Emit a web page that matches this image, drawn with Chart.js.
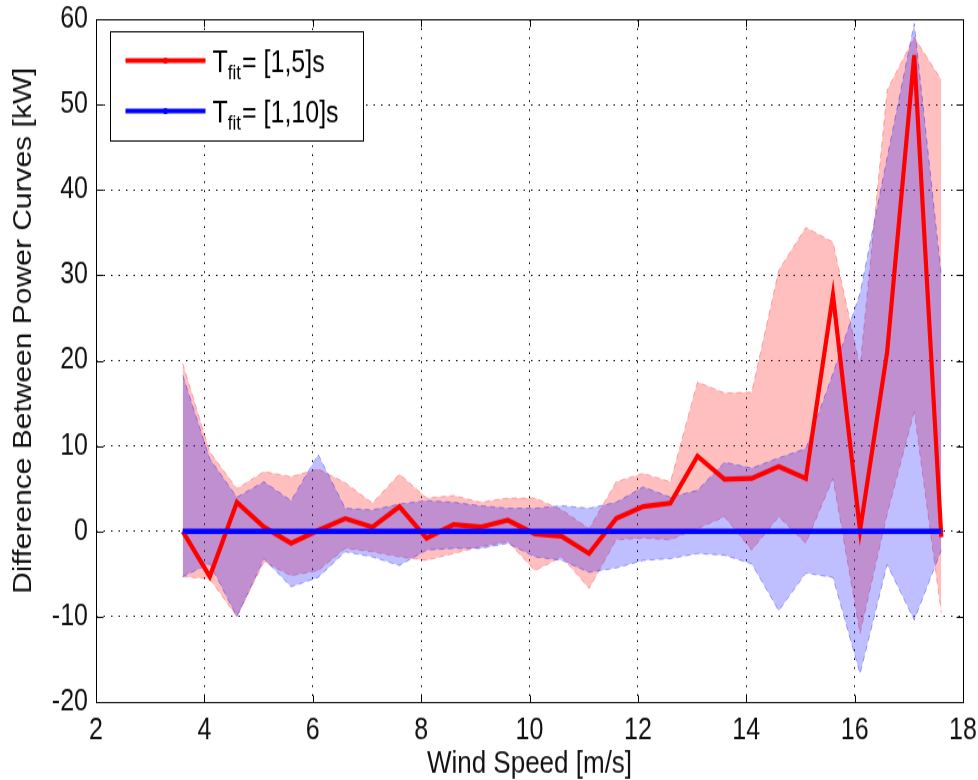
<!DOCTYPE html>
<html>
<head>
<meta charset="utf-8">
<title>Difference Between Power Curves</title>
<script src="https://cdn.jsdelivr.net/npm/chart.js@4.4.1/dist/chart.umd.min.js"></script>
<style>
  html, body { margin: 0; padding: 0; background: #fff; }
  #page { width: 978px; height: 780px; overflow: hidden; position: relative; }
  /* the figure is drawn 650px tall and stretched to 780px, like the exported plot */
  #wrap { position: absolute; left: 0; top: 0; width: 978px; height: 650px;
          transform: scaleY(1.2); transform-origin: 0 0; }
</style>
</head>
<body>
<div id="page"><div id="wrap"><canvas id="powerChart"></canvas></div></div>
<script>
const windSpeed = [3.6, 4.1, 4.6, 5.1, 5.6, 6.1, 6.6, 7.1, 7.6, 8.1, 8.6, 9.1, 9.6, 10.1, 10.6,
  11.1, 11.6, 12.1, 12.6, 13.1, 13.6, 14.1, 14.6, 15.1, 15.6, 16.1, 16.6, 17.1, 17.6];

// T_fit = [1,5]s : mean difference and its band
const diff5 = [0, -5.3, 3.4, 0.5, -1.4, 0.1, 1.5, 0.5, 2.9, -0.8, 0.8, 0.5, 1.3, -0.3, -0.6,
  -2.6, 1.5, 2.9, 3.3, 8.8, 6.1, 6.2, 7.6, 6.2, 27.7, 0.1, 21, 55.8, -0.7];
const upper5 = [19.7, 9.3, 5.0, 7.0, 6.4, 7.3, 5.7, 3.3, 6.7, 3.9, 4.2, 3.4, 3.9, 3.9, 2.5,
  0.3, 5.8, 6.8, 5.8, 17.5, 16.2, 16.3, 30.6, 35.6, 33.9, 19.3, 51.7, 57.9, 52.9];
const lower5 = [-5.3, -5.6, -10.0, -3.6, -5.2, -4.6, -2.0, -2.4, -3.0, -3.4, -2.6, -1.8, -1.2, -4.6, -3.0,
  -6.7, -1.0, -0.8, -1.0, 0.3, 1.7, -2.2, 1.7, -1.4, 6.2, -12.0, 2.0, 14.0, -9.6];

// T_fit = [1,10]s : reference curve (zero difference) and its band
const diff10 = [0, 0, 0, 0, 0, 0, 0, 0, 0, 0, 0, 0, 0, 0, 0,
  0, 0, 0, 0, 0, 0, 0, 0, 0, 0, 0, 0, 0, 0];
const upper10 = [18.3, 8.5, 4.0, 5.8, 3.6, 9.0, 2.7, 2.5, 3.2, 3.6, 3.4, 3.0, 2.7, 2.7, 3.0,
  2.7, 3.4, 5.2, 4.0, 4.8, 8.1, 7.4, 8.6, 9.7, 18.5, 27.9, 43.8, 59.5, 30];
const lower10 = [-5.3, -3.8, -10.0, -3.2, -6.5, -5.4, -2.4, -3.0, -4.0, -2.2, -2.0, -2.0, -1.4, -3.0, -3.4,
  -4.8, -4.3, -3.4, -3.2, -2.6, -2.8, -3.8, -9.3, -4.9, -5.4, -16.7, -3.9, -10.4, -2.2];

const xTicks = [2, 4, 6, 8, 10, 12, 14, 16, 18];
const yTicks = [-20, -10, 0, 10, 20, 30, 40, 50, 60];
const legendRanges = ["[1,5]s", "[1,10]s"];
const xAxisTitle = "Wind Speed [m/s]";
const yAxisTitle = "Difference Between Power Curves [kW]";

const FONT = "'Liberation Sans', Arial, Helvetica, sans-serif";

function toPoints(values) {
  return windSpeed.map((x, i) => ({ x: x, y: values[i] }));
}

function bandEdge(values, stroke, fillColor, fillTarget) {
  return {
    data: toPoints(values),
    borderColor: stroke,
    borderWidth: 1,
    borderDash: [5, 4],
    backgroundColor: fillColor,
    fill: fillTarget,
    pointRadius: 0,
  };
}

// inward ticks and the box round the axes
const axesBox = {
  id: "axesBox",
  afterDatasetsDraw(chart) {
    const { ctx, chartArea: a } = chart;
    const xs = chart.scales.x;
    const ys = chart.scales.y;
    const l = Math.round(a.left) + 0.5;
    const r = Math.round(a.right) + 0.5;
    const t = Math.round(a.top) + 0.5;
    const b = Math.round(a.bottom) + 0.5;
    ctx.save();
    ctx.strokeStyle = "#000";
    ctx.lineWidth = 1;
    ctx.beginPath();
    ctx.rect(l, t, r - l, b - t);
    xTicks.forEach((v) => {
      const px = Math.round(xs.getPixelForValue(v)) + 0.5;
      ctx.moveTo(px, b);
      ctx.lineTo(px, b - 6);
      ctx.moveTo(px, t);
      ctx.lineTo(px, t + 6);
    });
    yTicks.forEach((v) => {
      const py = Math.round(ys.getPixelForValue(v)) + 0.5;
      ctx.moveTo(l, py);
      ctx.lineTo(l + 7, py);
      ctx.moveTo(r, py);
      ctx.lineTo(r - 7, py);
    });
    ctx.stroke();
    ctx.restore();
  },
};

// y label sits a little above the middle of the axis
const yLabel = {
  id: "yLabel",
  afterDraw(chart) {
    const { ctx, chartArea: a } = chart;
    ctx.save();
    ctx.translate(24.5, (a.top + a.bottom) / 2 - 25);
    ctx.rotate(-Math.PI / 2);
    ctx.font = "25px " + FONT;
    ctx.fillStyle = "#111";
    ctx.textAlign = "center";
    ctx.textBaseline = "middle";
    ctx.fillText(yAxisTitle, 0, 0);
    ctx.restore();
  },
};

// legend with the subscripted T_fit labels
const fitLegend = {
  id: "fitLegend",
  afterDraw(chart) {
    const { ctx, chartArea: a } = chart;
    const left = Math.round(a.left) + 14.5;
    const top = Math.round(a.top) + 10.5;
    const width = 253;
    const height = 91;
    const rows = [
      { color: "#ff0000", y: top + 24, text: legendRanges[0] },
      { color: "#0000ff", y: top + 66, text: legendRanges[1] },
    ];
    ctx.save();
    ctx.fillStyle = "#fff";
    ctx.fillRect(left, top, width, height);
    ctx.strokeStyle = "#000";
    ctx.lineWidth = 1;
    ctx.strokeRect(left, top, width, height);

    rows.forEach((row) => {
      ctx.strokeStyle = row.color;
      ctx.lineWidth = 4.2;
      ctx.beginPath();
      ctx.moveTo(left + 15, row.y);
      ctx.lineTo(left + 95, row.y);
      ctx.stroke();
      ctx.fillStyle = row.color;
      ctx.beginPath();
      ctx.arc(left + 55, row.y, 2.6, 0, Math.PI * 2);
      ctx.fill();

      ctx.fillStyle = "#000";
      ctx.textBaseline = "alphabetic";
      let tx = left + 102;
      const base = row.y + 9;
      ctx.font = "25px " + FONT;
      ctx.fillText("T", tx, base);
      tx += ctx.measureText("T").width;
      ctx.font = "17px " + FONT;
      ctx.fillText("fit", tx, base + 6);
      tx += ctx.measureText("fit").width + 1;
      ctx.font = "25px " + FONT;
      ctx.fillText("= " + row.text, tx, base);
    });
    ctx.restore();
  },
};

const ctx = document.getElementById("powerChart").getContext("2d");
new Chart(ctx, {
  type: "line",
  data: {
    datasets: [
      {
        label: "T_fit= " + legendRanges[1],
        data: toPoints(diff10),
        borderColor: "#0000ff",
        borderWidth: 4.4,
        pointRadius: 0,
        fill: false,
      },
      {
        label: "T_fit= " + legendRanges[0],
        data: toPoints(diff5),
        borderColor: "#ff0000",
        borderWidth: 4.2,
        pointRadius: 0,
        fill: false,
      },
      bandEdge(upper10, "rgba(0, 0, 255, 0.35)", "rgba(0, 0, 255, 0.25)", "+1"),
      bandEdge(lower10, "rgba(0, 0, 255, 0.35)", "rgba(0, 0, 255, 0.25)", false),
      bandEdge(upper5, "rgba(255, 0, 0, 0.3)", "rgba(255, 0, 0, 0.25)", "+1"),
      bandEdge(lower5, "rgba(255, 0, 0, 0.3)", "rgba(255, 0, 0, 0.25)", false),
    ],
  },
  options: {
    responsive: true,
    maintainAspectRatio: false,
    animation: false,
    layout: { padding: { top: 16, right: 15, bottom: 0, left: 0 } },
    elements: { line: { tension: 0 } },
    plugins: {
      legend: { display: false },
      tooltip: { enabled: false },
    },
    scales: {
      x: {
        type: "linear",
        min: 2,
        max: 18,
        afterBuildTicks: (scale) => {
          scale.ticks = xTicks.map((v) => ({ value: v }));
        },
        afterFit: (scale) => {
          scale.height = 65;
          scale.paddingLeft = 0;
          scale.paddingRight = 0;
        },
        ticks: {
          color: "#111",
          padding: 9,
          maxRotation: 0,
          font: { family: FONT, size: 25 },
        },
        grid: { color: "#000", lineWidth: 1, drawTicks: false },
        border: { display: false, dash: [1.5, 6] },
        title: {
          display: true,
          text: xAxisTitle,
          color: "#111",
          font: { family: FONT, size: 26, lineHeight: 1 },
          padding: { top: 0, bottom: 0 },
        },
      },
      y: {
        type: "linear",
        min: -20,
        max: 60,
        afterBuildTicks: (scale) => {
          scale.ticks = yTicks.map((v) => ({ value: v }));
        },
        afterFit: (scale) => {
          scale.width = 96;
          scale.paddingTop = 0;
          scale.paddingBottom = 0;
        },
        ticks: {
          color: "#111",
          padding: 8,
          font: { family: FONT, size: 25 },
        },
        grid: { color: "#000", lineWidth: 1, drawTicks: false },
        border: { display: false, dash: [1.5, 6] },
        title: { display: false },
      },
    },
  },
  plugins: [axesBox, yLabel, fitLegend],
});
</script>
</body>
</html>
